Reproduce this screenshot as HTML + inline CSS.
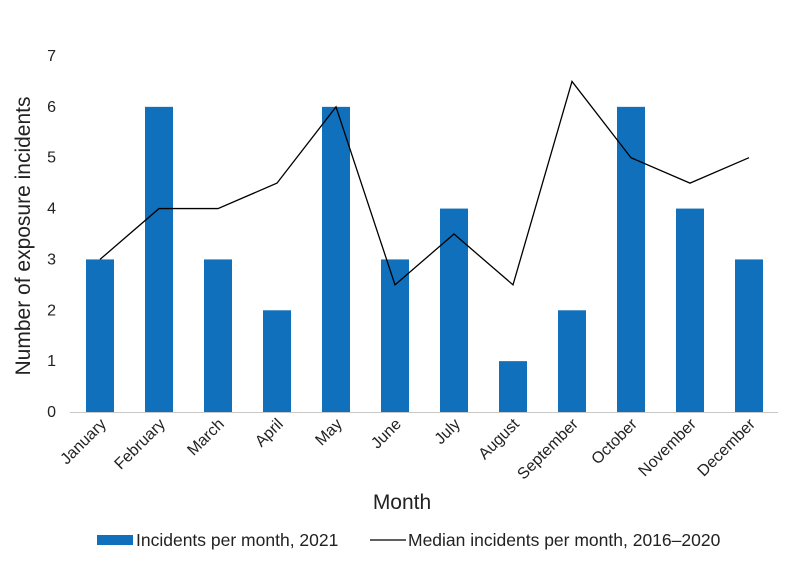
<!DOCTYPE html>
<html><head><meta charset="utf-8"><style>
body{margin:0;background:#fff;font-family:"Liberation Sans",sans-serif;}
svg text{font-family:"Liberation Sans",sans-serif;fill:#222;}
</style></head><body>
<svg id="chart" width="792" height="570" viewBox="0 0 792 570">
<g id="yticks"></g><g id="bars"></g><g id="xlabels"></g>
<line x1="70" y1="412.5" x2="778" y2="412.5" stroke="#c8c8c8" stroke-width="1"/>
<polyline id="median" fill="none" stroke="#000" stroke-width="1.3"/>
<text x="30" y="236" font-size="21" text-anchor="middle" transform="rotate(-90 30 236)">Number of exposure incidents</text>
<text x="402" y="509" font-size="21" text-anchor="middle">Month</text>
<g>
<rect x="97" y="535" width="36" height="10" fill="#1070bb"/>
<text x="136" y="546" font-size="17.5">Incidents per month, 2021</text>
<line x1="370" y1="540" x2="406" y2="540" stroke="#000" stroke-width="1.3"/>
<text x="408" y="546" font-size="17.5">Median incidents per month, 2016–2020</text>
</g>
</svg>
<script>
const months=["January","February","March","April","May","June","July","August","September","October","November","December"];
const incidents2021=[3,6,3,2,6,3,4,1,2,6,4,3];
const median=[3,4,4,4.5,6,2.5,3.5,2.5,6.5,5,4.5,5];
const yTicks=[0,1,2,3,4,5,6,7];
const NS="http://www.w3.org/2000/svg";
const left=70.5,step=59,y0=412,yTop=56,ymax=7;
const xc=i=>left+step*(i+0.5);
const y=v=>y0-(y0-yTop)*v/ymax;
function mk(t,a,txt){const e=document.createElementNS(NS,t);for(const k in a)e.setAttribute(k,a[k]);if(txt!==undefined)e.textContent=txt;return e;}
const yt=document.getElementById('yticks');
yTicks.forEach(v=>{const t=mk('text',{x:56,y:y(v)+5,'font-size':16,'text-anchor':'end'},v);


yt.appendChild(t);});
const bg=document.getElementById('bars'),xl=document.getElementById('xlabels');
incidents2021.forEach((v,i)=>{const r=mk('rect',{x:xc(i)-14,y:y(v),width:28,height:y0-y(v),fill:'#1070bb'});


bg.appendChild(r);
const t=mk('text',{x:xc(i)+7,y:425,'font-size':16,'text-anchor':'end',transform:`rotate(-45 ${xc(i)+7} 425)`},months[i]);


xl.appendChild(t);});
document.getElementById('median').setAttribute('points',median.map((v,i)=>xc(i)+','+y(v)).join(' '));
</script>
</body></html>
